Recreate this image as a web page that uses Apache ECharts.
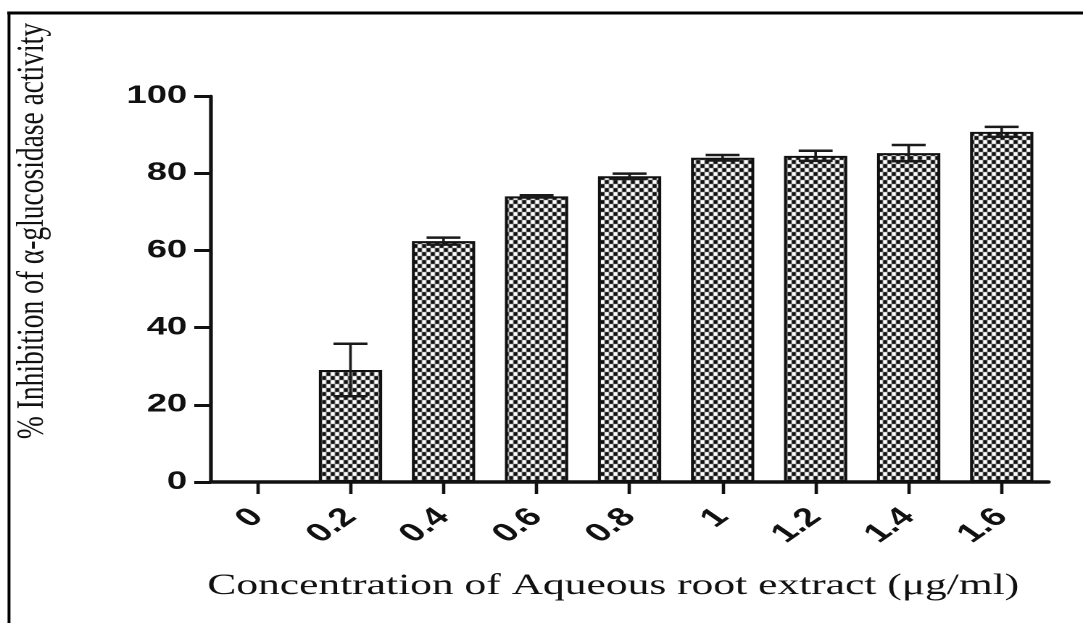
<!DOCTYPE html>
<html>
<head>
<meta charset="utf-8">
<style>
  html, body { margin: 0; padding: 0; background: #fff; overflow: hidden; }
  /* The figure is laid out on a narrower canvas and widened to its final size */
  #chart { width: 747px; height: 623px; transform: scaleX(1.4498); transform-origin: 0 0; }
</style>
<script src="https://cdn.jsdelivr.net/npm/echarts@6/dist/echarts.min.js"></script>
</head>
<body>
<div id="chart"></div>
<script>
// Concentrations of the aqueous root extract (µg/ml)
const concentrations = ['0', '0.2', '0.4', '0.6', '0.8', '1', '1.2', '1.4', '1.6'];
// Mean % inhibition of α-glucosidase activity
const inhibition = [0, 29.0, 62.4, 74.0, 79.2, 84.0, 84.5, 85.2, 90.7];
// Error (±) for each mean
const errors = [0, 6.8, 0.9, 0.3, 0.7, 0.7, 1.3, 2.1, 1.3];
// Y axis ticks
const yTicks = [0, 20, 40, 60, 80, 100];

// Black-and-white checkerboard fill for the bars
function checkerPattern(cw, ch) {
  const c = document.createElement('canvas');
  c.width = cw * 2; c.height = ch * 2;
  const g = c.getContext('2d');
  g.fillStyle = '#ffffff';
  g.fillRect(0, 0, c.width, c.height);
  g.fillStyle = '#111111';
  g.fillRect(0, 0, cw, ch);
  g.fillRect(cw, ch, cw, ch);
  return { image: c, repeat: 'repeat' };
}

const chart = echarts.init(document.getElementById('chart'), null, { renderer: 'canvas', devicePixelRatio: 2 });

const errorData = inhibition.map((v, i) => [i, v - errors[i], v + errors[i]]);

const option = {
  animation: false,
  backgroundColor: '#ffffff',
  grid: { left: 145.5, right: 24, top: 96, bottom: 141, containLabel: false },
  xAxis: {
    type: 'category',
    data: concentrations,
    axisLine: { lineStyle: { color: '#111', width: 3.5 } },
    axisTick: { show: true, alignWithLabel: true, length: 12, lineStyle: { color: '#111', width: 2.3 } },
    axisLabel: {
      rotate: 45,
      margin: 31,
      color: '#111',
      fontFamily: 'Liberation Sans',
      fontWeight: 'bold',
      fontSize: 26
    }
  },
  yAxis: {
    type: 'value',
    min: yTicks[0],
    max: yTicks[yTicks.length - 1],
    interval: 20,
    splitLine: { show: false },
    axisLine: { show: true, lineStyle: { color: '#111', width: 2.6 } },
    axisTick: { show: true, length: 11.5, lineStyle: { color: '#111', width: 3 } },
    axisLabel: {
      margin: 16.5,
      color: '#111',
      fontFamily: 'Liberation Sans',
      fontWeight: 'bold',
      fontSize: 25
    }
  },
  series: [
    {
      type: 'bar',
      data: inhibition,
      barWidth: '68%',
      itemStyle: {
        color: checkerPattern(3, 4),
        borderColor: '#111',
        borderWidth: 2
      },
      z: 2
    },
    {
      type: 'custom',
      data: errorData,
      z: 3,
      renderItem: function (params, api) {
        const x = api.value(0);
        if (api.value(2) - api.value(1) <= 0) return null;
        const lo = api.coord([x, api.value(1)]);
        const hi = api.coord([x, api.value(2)]);
        const half = 11.7;
        const stem = { stroke: '#1a1a1a', lineWidth: 1.8 };
        const cap = { stroke: '#1a1a1a', lineWidth: 2.5 };
        return {
          type: 'group',
          children: [
            { type: 'line', shape: { x1: hi[0], y1: hi[1], x2: lo[0], y2: lo[1] }, style: stem },
            { type: 'line', shape: { x1: hi[0] - half, y1: hi[1], x2: hi[0] + half, y2: hi[1] }, style: cap },
            { type: 'line', shape: { x1: lo[0] - half, y1: lo[1], x2: lo[0] + half, y2: lo[1] }, style: cap }
          ]
        };
      }
    }
  ],
  graphic: [
    // Frame lines along the top and left edges
    { type: 'line', shape: { x1: 5, y1: 13, x2: 747, y2: 13 }, style: { stroke: '#000', lineWidth: 3 } },
    { type: 'line', shape: { x1: 6.2, y1: 12, x2: 6.2, y2: 623 }, style: { stroke: '#000', lineWidth: 2 } },
    // Axis titles
    {
      type: 'text',
      x: 22.5, y: 231,
      rotation: Math.PI / 2,
      scaleY: 0.95,
      style: {
        text: '% Inhibition of α-glucosidase activity',
        font: '27.5px "Liberation Serif"',
        fill: '#111',
        align: 'center',
        verticalAlign: 'middle'
      }
    },
    {
      type: 'text',
      x: 423, y: 586,
      style: {
        text: 'Concentration of Aqueous root extract (μg/ml)',
        font: '30px "Liberation Serif"',
        fill: '#111',
        align: 'center',
        verticalAlign: 'middle'
      }
    }
  ]
};

chart.setOption(option);
</script>
</body>
</html>
